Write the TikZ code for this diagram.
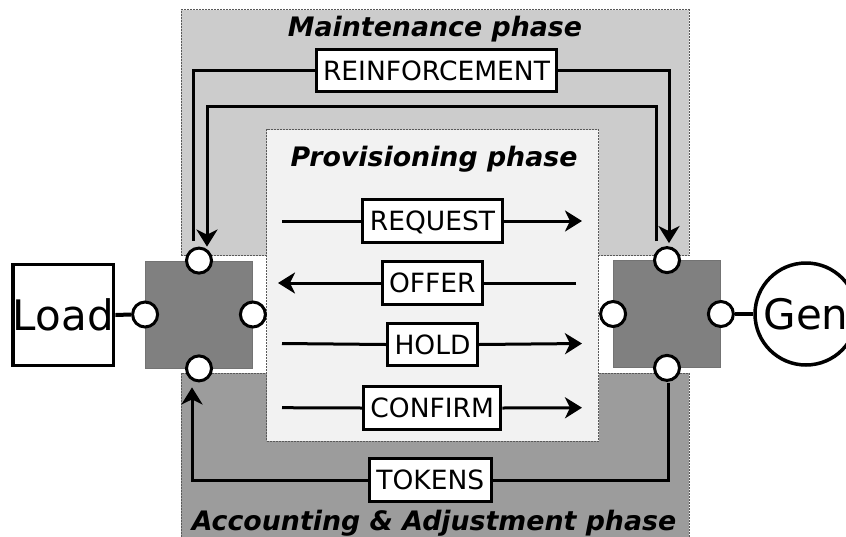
\documentclass[tikz,border=0pt]{standalone}
\usepackage{fontspec}
\setmainfont{DejaVu Sans}
\usetikzlibrary{arrows.meta}
\definecolor{maintgray}{HTML}{CCCCCC}
\definecolor{provgray}{HTML}{F2F2F2}
\definecolor{acctgray}{HTML}{9C9C9C}
\definecolor{hubgray}{HTML}{808080}
\begin{document}
\begin{tikzpicture}[x=1pt,y=-1pt,
  phasebox/.style={rectangle, draw=black!65, line width=0.7pt, dash pattern=on 2pt off 1pt, inner sep=0pt, outer sep=0pt},
  phasetitle/.style={font=\fontsize{26.8}{30}\selectfont\bfseries\itshape, inner sep=0pt},
  hub/.style={rectangle, draw=black!55, fill=hubgray, line width=0.8pt, minimum width=107pt, minimum height=107pt, inner sep=0pt},
  port/.style={circle, draw, fill=white, line width=3pt, minimum size=25pt, inner sep=0pt},
  msg/.style={rectangle, draw, fill=white, line width=3pt, inner xsep=7pt, inner ysep=0pt, minimum height=42.5pt, text height=19pt, text depth=0pt, font=\fontsize{26.5}{30}\selectfont},
  conn/.style={line width=3pt},
  arr/.style={conn, -{Stealth[length=17pt,width=21pt,inset=5pt]}},
  bignode/.style={draw, fill=white, line width=3.5pt, inner sep=0pt, font=\fontsize{42}{48}\selectfont}
]
\clip (0,0) rectangle (846,536);
% phase regions
\node[phasebox, fill=maintgray, minimum width=508pt, minimum height=246pt, anchor=north west] (maint) at (181,9.5) {};
\node[phasebox, fill=acctgray, minimum width=508pt, minimum height=175pt, anchor=north west] (acct) at (181,373) {};
\node[phasebox, fill=provgray, minimum width=332pt, minimum height=311.5pt, anchor=north west] (prov) at (266.5,129.5) {};
\node[phasetitle, anchor=base] (mtitle) at (435,36) {Maintenance phase};
\node[phasetitle, anchor=base] (ptitle) at (434,166.5) {Provisioning phase};
\node[phasetitle, anchor=base] (atitle) at (434,530) {Accounting \& Adjustment phase};
% hubs
\node[hub] (lhub) at (199,314.5) {};
\node[hub] (rhub) at (667,314) {};
\node[port] (lN) at (lhub.north) {};
\node[port] (lS) at (lhub.south) {};
\node[port] (lW) at (lhub.west) {};
\node[port] (lE) at (lhub.east) {};
\node[port] (rN) at (rhub.north) {};
\node[port] (rS) at (rhub.south) {};
\node[port] (rW) at (rhub.west) {};
\node[port] (rE) at (rhub.east) {};
% end nodes
\node[bignode, rectangle, minimum width=100pt, minimum height=101pt] (load) at (63.3,315) {Load};
\node[bignode, circle, minimum size=102pt] (gen) at (806,314) {Gen};
\draw[line width=4pt] (load.east) -- (lW.west);
\draw[line width=4pt] (rE.east) -- (gen.west);
% messages
\node[msg] (reinf) at (436.5,70.5) {REINFORCEMENT};
\node[msg] (req) at (432.5,221) {REQUEST};
\node[msg] (offer) at (432.3,283) {OFFER};
\node[msg] (hold) at (432.5,344.5) {HOLD};
\node[msg] (confirm) at (432.2,408) {CONFIRM};
\node[msg] (tokens) at (430.3,480) {TOKENS};
% maintenance connectors
\coordinate (mA) at ([xshift=-6pt,yshift=6pt]lN.north);
\coordinate (mB) at ([xshift=2pt,yshift=3pt]rN.north);
\coordinate (mC) at ([xshift=-11pt,yshift=5pt]rN.north);
\coordinate (mD) at ([xshift=8pt]lN.north);
\coordinate (innerY) at (0,106);
\draw[conn] (mA) -- (mA |- reinf.west) -- (reinf.west);
\draw[arr] (reinf.east) -- (mB |- reinf.east) -- (mB);
\draw[arr] (mC) -- (mC |- innerY) -- (mD |- innerY) -- (mD);
% provisioning connectors
\coordinate (pL1) at (282,221); \coordinate (pR1) at (582,221);
\coordinate (pL2) at (278,283); \coordinate (pR2) at (576,283);
\coordinate (pL3) at (282,343.5); \coordinate (pR3) at (582,343.5);
\coordinate (pL4) at (282,407.7); \coordinate (pR4) at (582,407.7);
\draw[conn] (pL1) -- (req.west);
\draw[arr] (req.east) -- (pR1);
\draw[conn] (pR2) -- (offer.east);
\draw[arr] (offer.west) -- (pL2);
\draw[conn] (pL3) -- (hold.west);
\draw[arr] (hold.east) -- (pR3);
\draw[conn] (pL4) -- (confirm.west);
\draw[arr] (confirm.east) -- (pR4);
% accounting connector
\coordinate (aE) at ([xshift=1pt,yshift=-1pt]rS.south);
\coordinate (aF) at ([xshift=-7pt,yshift=-5pt]lS.south);
\draw[conn] (aE) -- (aE |- tokens.east) -- (tokens.east);
\draw[arr] (tokens.west) -- (aF |- tokens.west) -- (aF);
\end{tikzpicture}
\end{document}
